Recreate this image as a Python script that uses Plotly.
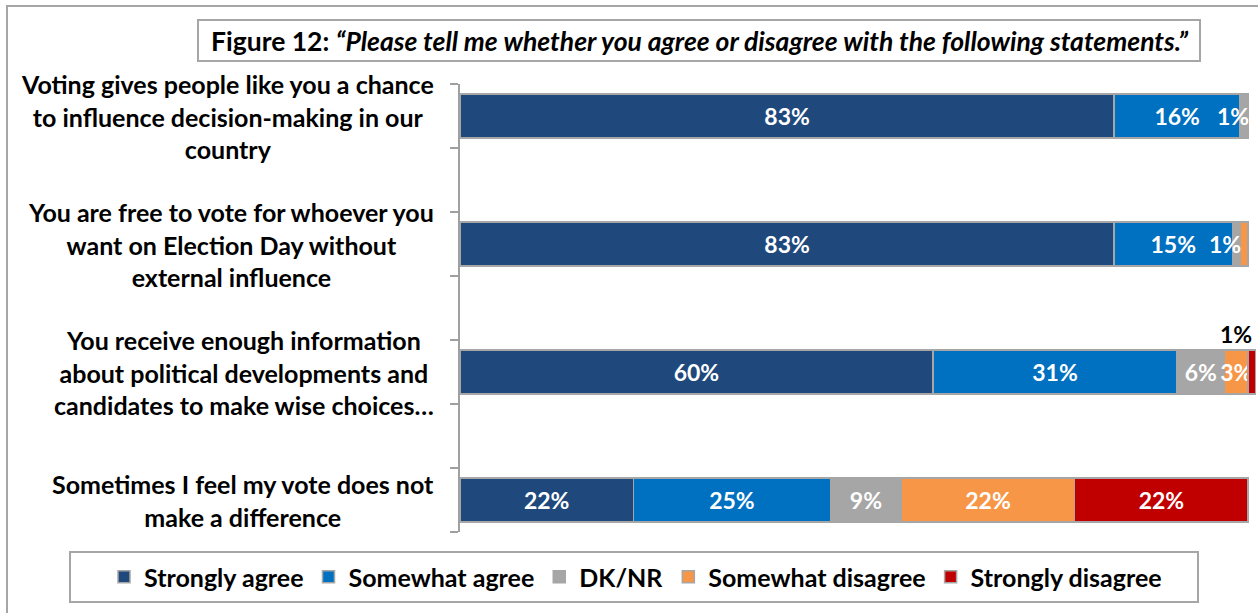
import plotly.graph_objects as go

# Survey statements (top to bottom) and response shares in percent
statements = [
    "Voting gives people like you a chance<br>to influence decision-making in our<br>country",
    "You are free to vote for whoever you<br>want on Election Day without<br>external influence",
    "You receive enough information<br>about political developments and<br>candidates to make wise choices…",
    "Sometimes I feel my vote does not<br>make a difference",
]
responses = ["Strongly agree", "Somewhat agree", "DK/NR", "Somewhat disagree", "Strongly disagree"]
strongly_agree = [83, 83, 60, 22]
somewhat_agree = [16, 15, 31, 25]
dk_nr = [1, 1, 6, 9]
somewhat_disagree = [0, 1, 3, 22]
strongly_disagree = [0, 0, 1, 22]

# Labels shown inside each segment ("" hides a label)
labels_strongly_agree = ["83%", "83%", "60%", "22%"]
labels_somewhat_agree = ["16%", "15%", "31%", "25%"]
labels_dk_nr = ["", "", "6%", "9%"]          # rows 1-2 are labelled separately below
labels_somewhat_disagree = ["", "", "3%", "22%"]
labels_strongly_disagree = ["", "", "", "22%"]

colors = ["#1F497D", "#0070C0", "#A6A6A6", "#F79646", "#C00000"]
FONT = "Lato"

series = [strongly_agree, somewhat_agree, dk_nr, somewhat_disagree, strongly_disagree]
series_labels = [labels_strongly_agree, labels_somewhat_agree, labels_dk_nr,
                 labels_somewhat_disagree, labels_strongly_disagree]
rows = list(range(len(statements)))

fig = go.Figure()
for name, vals, labs, col in zip(responses, series, series_labels, colors):
    fig.add_trace(go.Bar(
        name=name,
        y=rows,
        x=vals,
        orientation="h",
        width=0.345,
        marker=dict(color=col, line=dict(color="#A6A6A6", width=1.5)),
        text=labs,
        textposition="inside",
        insidetextanchor="middle",
        textangle=0,
        constraintext="none",
        textfont=dict(family=FONT, size=23, color="white", weight="bold"),
        cliponaxis=False,
        hoverinfo="skip",
    ))

# Thin DK/NR slices in rows 1-2: label placed at the end of the slice
for r in (0, 1):
    end = strongly_agree[r] + somewhat_agree[r] + dk_nr[r]
    fig.add_annotation(
        x=end, y=r, xref="x", yref="y", xanchor="right", yanchor="middle",
        text=f"<b>{dk_nr[r]}%</b>", showarrow=False, xshift=3,
        font=dict(family=FONT, size=23, color="white"),
    )

# Label for the thin "Strongly disagree" slice of row 3, drawn above the bar
row3 = 2
x_end = strongly_agree[row3] + somewhat_agree[row3] + dk_nr[row3] + somewhat_disagree[row3]
fig.add_annotation(
    x=x_end + strongly_disagree[row3], y=row3 - 0.17, xref="x", yref="y",
    text=f"<b>{strongly_disagree[row3]}%</b>", showarrow=False, xanchor="right", yanchor="bottom",
    xshift=-2, font=dict(family=FONT, size=23, color="black"),
)

# Statement labels, centred block to the left of the axis
for i, s in enumerate(statements):
    fig.add_annotation(
        x=-0.03, y=i, xref="paper", yref="y", xanchor="right", yanchor="middle",
        text="<b>" + s + "</b>", align="center", showarrow=False,
        font=dict(family=FONT, size=25, color="black"),
    )

PLOT_L, PLOT_R, PLOT_T, PLOT_B = 460, 1256, 84, 532
W, H = 1258, 613
pw, ph = PLOT_R - PLOT_L, PLOT_B - PLOT_T


def px(x):
    return (x - PLOT_L) / pw


def py(y):
    return (PLOT_B - y) / ph


shapes = [
    # outer chart border
    dict(type="rect", xref="paper", yref="paper", x0=px(7), x1=px(1275), y0=py(630), y1=py(6),
         line=dict(color="#A6A6A6", width=2), layer="below"),
    # title box
    dict(type="rect", xref="paper", yref="paper", x0=px(198), x1=px(1200), y0=py(61), y1=py(20),
         line=dict(color="#A6A6A6", width=2), fillcolor="white"),
    # legend box
    dict(type="rect", xref="paper", yref="paper", x0=px(70), x1=px(1198), y0=py(602), y1=py(552),
         line=dict(color="#A6A6A6", width=2), fillcolor="white", layer="below"),
]

fig.add_annotation(
    x=px(699), y=py(41), xref="paper", yref="paper", xanchor="center", yanchor="middle",
    text="<b>Figure 12: </b><b><i>“Please tell me whether you agree or disagree with the following statements.”</i></b>",
    showarrow=False, font=dict(family=FONT, size=26.5, color="black"),
)

fig.update_layout(
    barmode="stack",
    width=W, height=H,
    margin=dict(l=PLOT_L, r=W - PLOT_R, t=PLOT_T, b=H - PLOT_B, pad=0),
    paper_bgcolor="white", plot_bgcolor="white",
    shapes=shapes,
    showlegend=True,
    legend=dict(
        orientation="h", x=px(104), y=py(577), xanchor="left", yanchor="middle",
        font=dict(family=FONT, size=25, color="black", weight="bold"),
        bgcolor="rgba(0,0,0,0)", traceorder="normal",
        itemwidth=30,
    ),
    xaxis=dict(range=[0, 101], visible=False, fixedrange=True),
    yaxis=dict(
        range=[3.25, -0.25],
        tickvals=[-0.25, 0.25, 0.75, 1.25, 1.75, 2.25, 2.75, 3.25],
        ticks="outside", ticklen=8, tickwidth=2, tickcolor="#A0A0A0",
        showticklabels=False, showgrid=False, zeroline=False,
        showline=True, linecolor="#A0A0A0", linewidth=2,
        fixedrange=True,
    ),
    font=dict(family=FONT),
)

fig.write_html("out.html")
